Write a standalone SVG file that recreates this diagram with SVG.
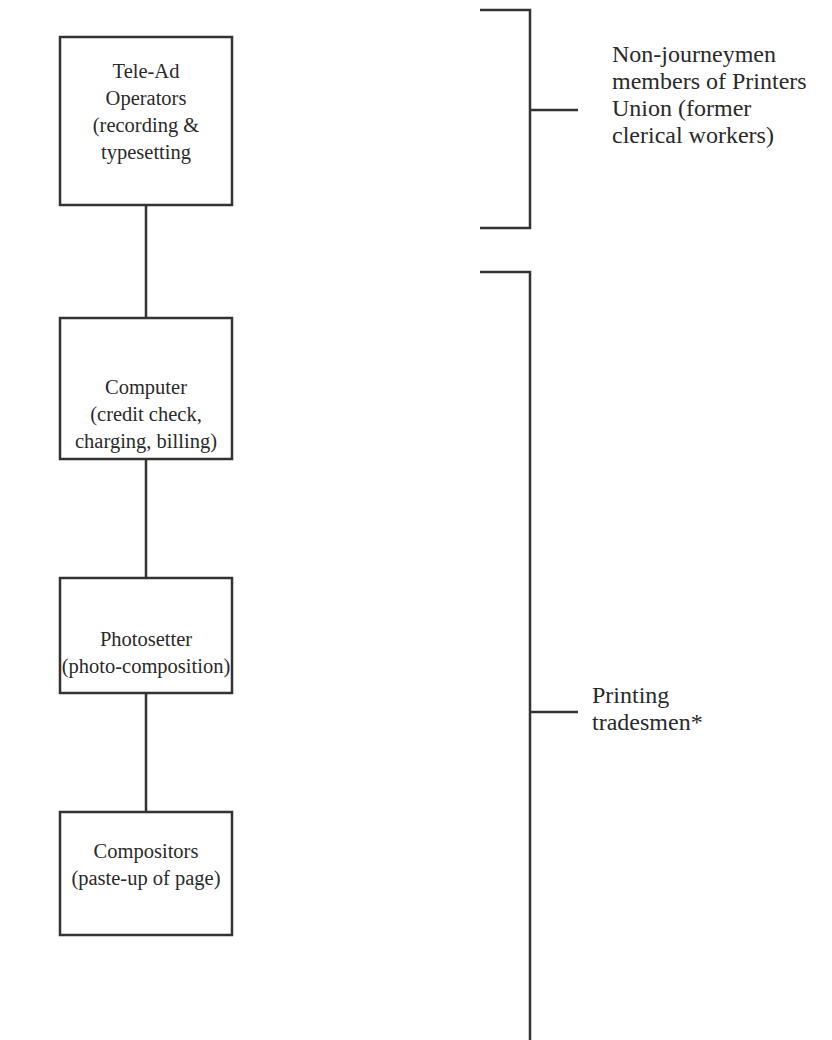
<svg xmlns="http://www.w3.org/2000/svg" width="832" height="1040" viewBox="0 0 832 1040">
<style>
.box{fill:#fff;stroke:#333;stroke-width:2.5}
.ln{stroke:#333;stroke-width:2.5;fill:none}
text{font-family:"Liberation Serif","Times New Roman",serif;font-size:20.5px;fill:#2a2a2a}
.c{text-anchor:middle}
.r{font-size:24px}
</style>
<rect width="832" height="1040" fill="#fff"/>
<g id="connectors">
<line class="ln" x1="146" y1="205" x2="146" y2="318"/>
<line class="ln" x1="146" y1="459" x2="146" y2="578"/>
<line class="ln" x1="146" y1="693" x2="146" y2="812"/>
</g>
<g id="teleAd">
<rect class="box" x="60" y="37" width="172" height="168"/>
<text class="c" x="146" y="78">Tele-Ad</text>
<text class="c" x="146" y="105">Operators</text>
<text class="c" x="146" y="132">(recording &amp;</text>
<text class="c" x="146" y="159">typesetting</text>
</g>
<g id="computer">
<rect class="box" x="60" y="318" width="172" height="141"/>
<text class="c" x="146" y="394">Computer</text>
<text class="c" x="146" y="421">(credit check,</text>
<text class="c" x="146" y="448">charging, billing)</text>
</g>
<g id="photosetter">
<rect class="box" x="60" y="578" width="172" height="115"/>
<text class="c" x="146" y="646">Photosetter</text>
<text class="c" x="146" y="673">(photo-composition)</text>
</g>
<g id="compositors">
<rect class="box" x="60" y="812" width="172" height="123"/>
<text class="c" x="146" y="858">Compositors</text>
<text class="c" x="146" y="885">(paste-up of page)</text>
</g>
<g id="bracketNonJourneymen">
<path class="ln" d="M480 10 H530 V228 H480 M530 110 H578"/>
<text class="r" x="612" y="62">Non-journeymen</text>
<text class="r" x="612" y="89">members of Printers</text>
<text class="r" x="612" y="116">Union (former</text>
<text class="r" x="612" y="143">clerical workers)</text>
</g>
<g id="bracketTradesmen">
<path class="ln" d="M480 272 H530 V1040 M530 712 H578"/>
<text class="r" x="592" y="703">Printing</text>
<text class="r" x="592" y="730">tradesmen*</text>
</g>
</svg>
